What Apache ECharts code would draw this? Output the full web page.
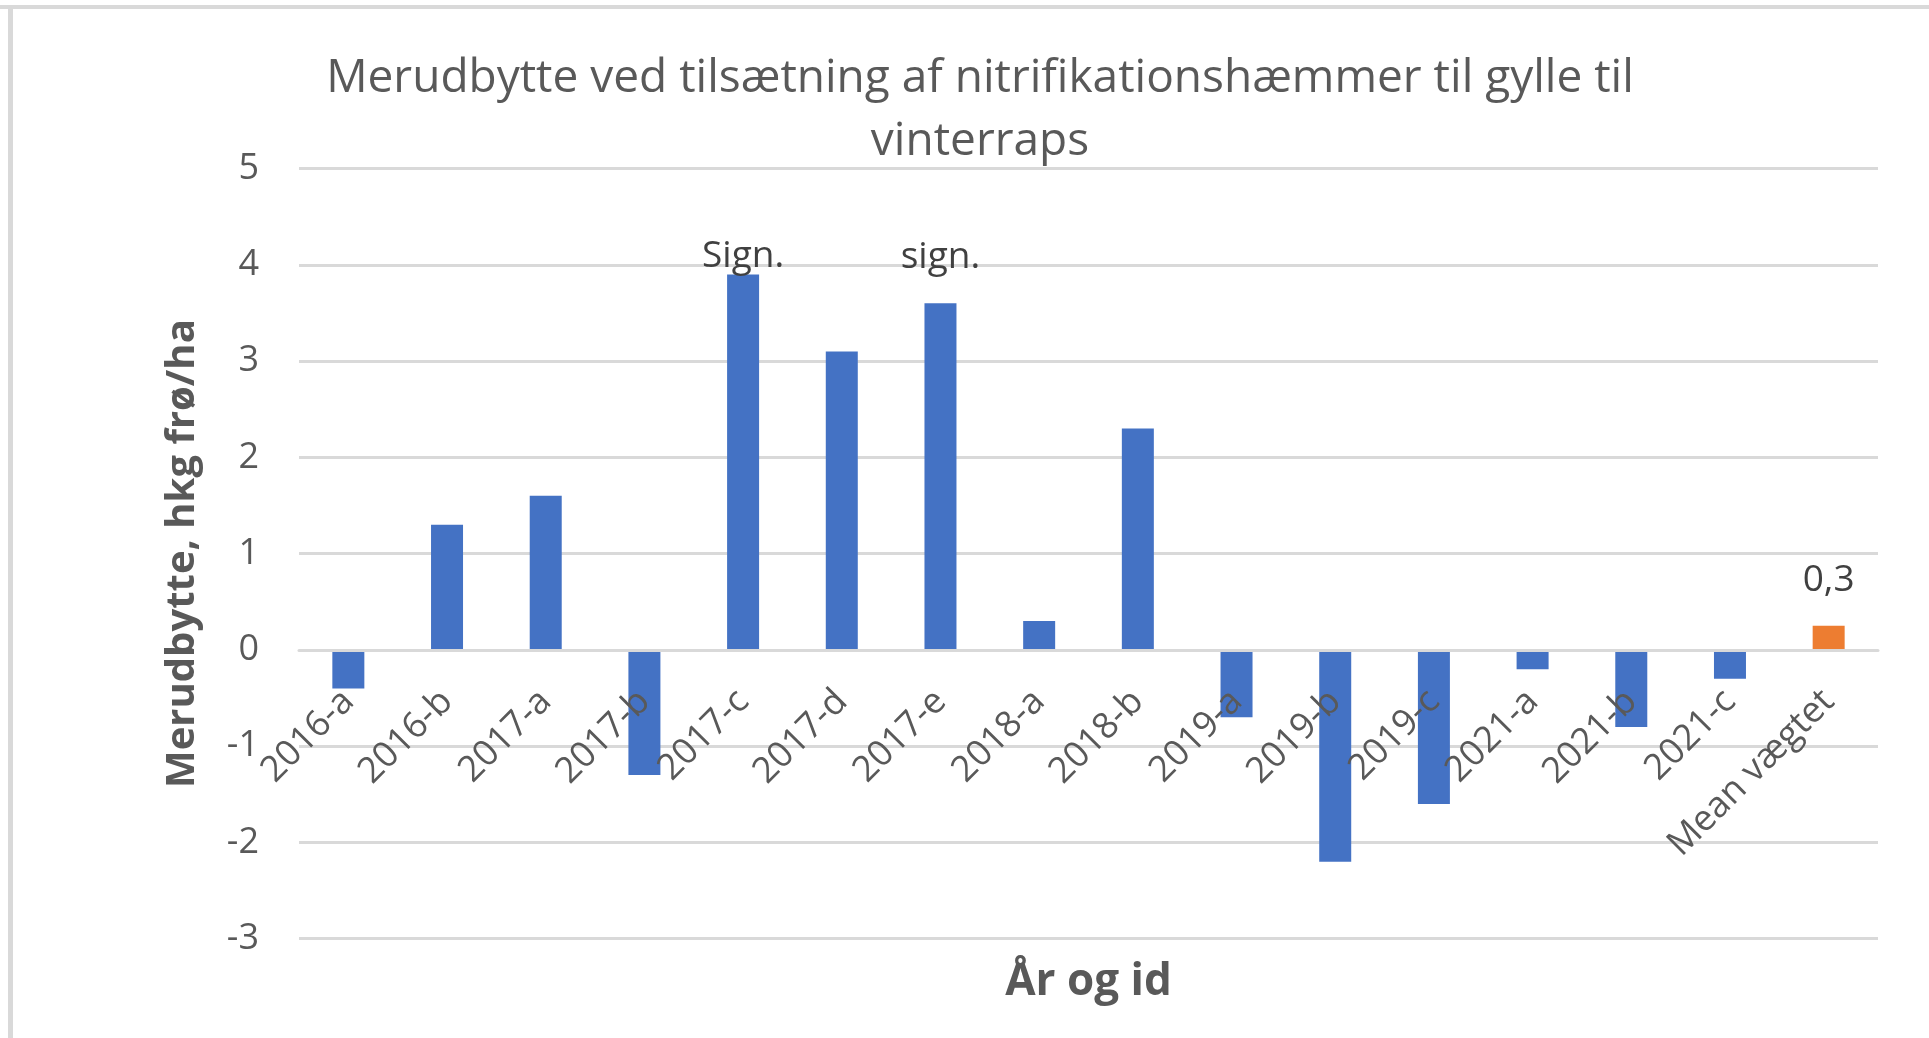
<!DOCTYPE html>
<html>
<head>
<meta charset="utf-8">
<script src="https://cdn.jsdelivr.net/npm/echarts@6/dist/echarts.min.js"></script>
<style>
  html, body { margin: 0; padding: 0; background: #fff; }
  #chart { width: 1929px; height: 1038px; }
</style>
</head>
<body>
<div id="chart"></div>
<script>
// data
const categories = ['2016-a', '2016-b', '2017-a', '2017-b', '2017-c', '2017-d', '2017-e', '2018-a',
  '2018-b', '2019-a', '2019-b', '2019-c', '2021-a', '2021-b', '2021-c', 'Mean vægtet']
const merudbytte = [-0.4, 1.3, 1.6, -1.3, 3.9, 3.1, 3.6, 0.3, 2.3, -0.7, -2.2, -1.6, -0.2, -0.8, -0.3, 0.25]
const notes = ['', '', '', '', 'Sign.', '', 'sign.', '', '', '', '', '', '', '', '', 'value']
const yTicks = [-3, -2, -1, 0, 1, 2, 3, 4, 5]

const BLUE = '#4472C4'
const ORANGE = '#ED7D31'
const GRID = '#d9d9d9'
const TEXT = '#595959'
const FONT = '"Open Sans", "Noto Sans", sans-serif'

// plot box, px
const PLOT_TOP = 168.5
const PLOT_BOTTOM = 99.3
const PLOT_H = 1038 - PLOT_TOP - PLOT_BOTTOM

// how far above the bar top each note sits (style, keyed by index)
const noteGap = { 4: -1, 6: 27, 15: 27 }

const chart = echarts.init(document.getElementById('chart'))

const seriesData = merudbytte.map((v, i) => {
  const isMean = i === categories.length - 1
  const note = notes[i]
  const item = {
    value: v,
    itemStyle: { color: isMean ? ORANGE : BLUE }
  }
  if (note) {
    item.label = {
      show: true,
      position: 'top',
      distance: noteGap[i] || 4,
      formatter: note === 'value' ? v.toFixed(1).replace('.', ',') : note,
      color: '#404040',
      fontSize: 37,
      fontFamily: FONT
    }
  }
  return item
})

// the category axis sits on the zero line, like Excel does
const yMin = yTicks[0]
const yMax = yTicks[yTicks.length - 1]
const zeroOffset = -PLOT_H * (0 - yMin) / (yMax - yMin)

chart.setOption({
  backgroundColor: '#fff',
  animation: false,
  title: {
    text: 'Merudbytte ved tilsætning af nitrifikationshæmmer til gylle til\nvinterraps',
    left: 980,
    top: 47,
    padding: 0,
    textAlign: 'center',
    textStyle: {
      color: TEXT,
      fontSize: 46,
      fontWeight: 'normal',
      lineHeight: 63,
      fontFamily: FONT
    }
  },
  grid: {
    left: 299,
    right: 51,
    top: PLOT_TOP,
    bottom: PLOT_BOTTOM,
    containLabel: false,
    outerBoundsMode: 'none'
  },
  xAxis: {
    type: 'category',
    data: categories,
    z: 10,
    offset: zeroOffset,
    axisLine: { show: true, onZero: false, lineStyle: { color: GRID, width: 3 } },
    axisTick: { show: false },
    axisLabel: {
      interval: 0,
      rotate: 45,
      margin: 46,
      padding: [20, 0, 0, 0],
      color: TEXT,
      fontSize: 36,
      fontFamily: FONT
    },
    name: 'År og id',
    nameLocation: 'middle',
    nameGap: 311,
    nameMoveOverlap: false,
    nameTextStyle: {
      color: TEXT,
      fontSize: 44,
      fontWeight: 'bold',
      fontFamily: FONT
    }
  },
  yAxis: {
    type: 'value',
    min: yMin,
    max: yMax,
    interval: 1,
    axisLine: { show: false },
    axisTick: { show: false },
    splitLine: { lineStyle: { color: GRID, width: 3 } },
    axisLabel: {
      margin: 40,
      color: TEXT,
      fontSize: 36,
      fontFamily: FONT
    },
    name: 'Merudbytte, hkg frø/ha',
    nameLocation: 'middle',
    nameGap: 96,
    nameMoveOverlap: false,
    nameTextStyle: {
      color: TEXT,
      fontSize: 40,
      fontWeight: 'bold',
      fontFamily: FONT
    }
  },
  graphic: [
    { type: 'rect', left: 0, top: 5, shape: { width: 1929, height: 4 }, style: { fill: GRID }, silent: true },
    { type: 'rect', left: 8, top: 5, shape: { width: 5, height: 1033 }, style: { fill: GRID }, silent: true }
  ],
  series: [
    {
      type: 'bar',
      data: seriesData,
      barWidth: 32,
      label: { show: false }
    }
  ]
})
</script>
</body>
</html>
